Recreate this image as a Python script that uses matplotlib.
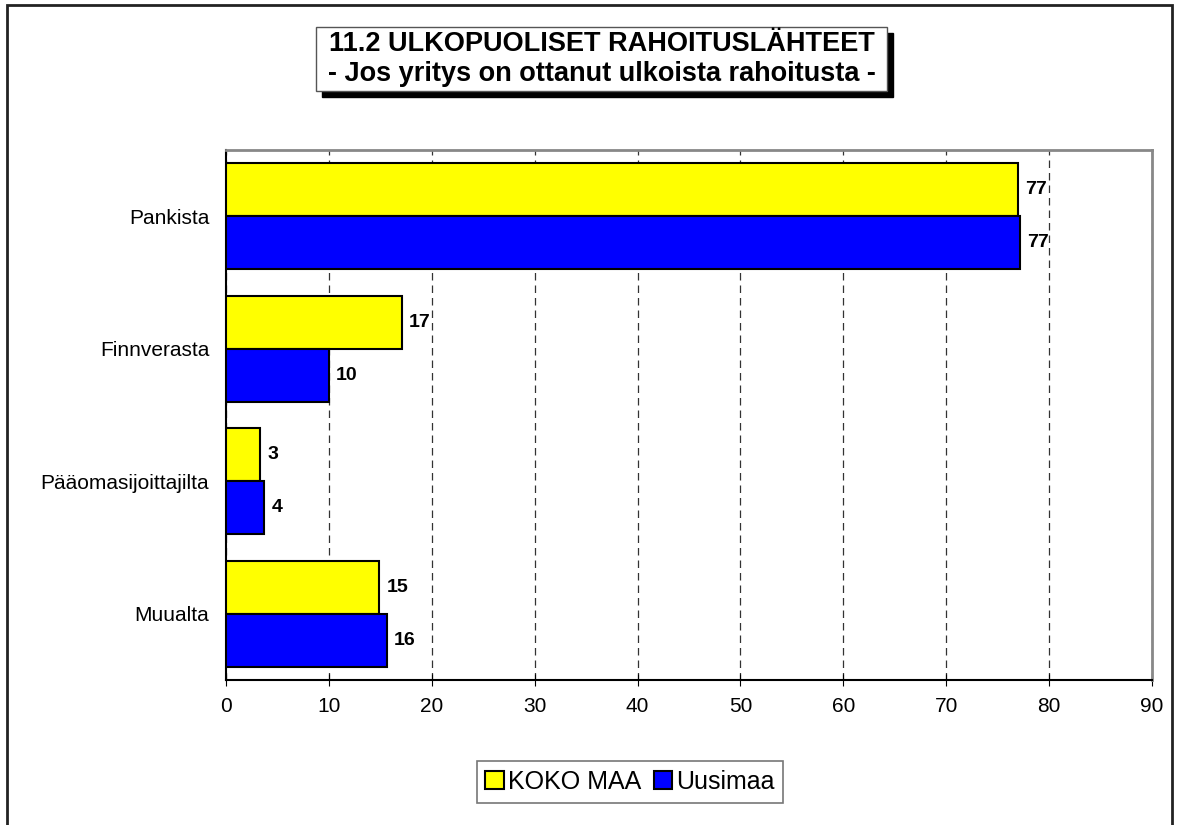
import matplotlib
matplotlib.use("Agg")
import matplotlib.pyplot as plt
from matplotlib.patches import Rectangle, Patch
import numpy as np

plt.rcParams['font.family'] = ['Liberation Sans', 'DejaVu Sans']

""" Data """
categories = ["Pankista", "Finnverasta", "Pääomasijoittajilta", "Muualta"]
koko_maa = [77.0, 17.1, 3.3, 14.9]
uusimaa = [77.2, 10.0, 3.7, 15.6]
series_names = ["KOKO MAA", "Uusimaa"]
x_ticks = [0, 10, 20, 30, 40, 50, 60, 70, 80, 90]

title = "11.2 ULKOPUOLISET RAHOITUSLÄHTEET\n- Jos yritys on ottanut ulkoista rahoitusta -"

fig = plt.figure(figsize=(11.78, 8.25), dpi=100)
ax = fig.add_axes([226 / 1178, 1 - 680 / 825, (1152 - 226) / 1178, 530 / 825])

y = np.arange(len(categories))
h = 0.4
ax.barh(y - h / 2, koko_maa, height=h, color="#FFFF00", edgecolor="black", linewidth=1.5, label=series_names[0], zorder=3)
ax.barh(y + h / 2, uusimaa, height=h, color="#0000FF", edgecolor="black", linewidth=1.5, label=series_names[1], zorder=3)

# value labels next to bars
for i in range(len(categories)):
    ax.text(koko_maa[i] + 0.7, y[i] - h / 2, "%d" % round(koko_maa[i]), va="center", ha="left",
            fontsize=14, fontweight="bold", zorder=4)
    ax.text(uusimaa[i] + 0.7, y[i] + h / 2, "%d" % round(uusimaa[i]), va="center", ha="left",
            fontsize=14, fontweight="bold", zorder=4)

ax.set_xlim(0, 90)
ax.set_ylim(len(categories) - 0.5, -0.5)
ax.set_xticks(x_ticks)
ax.set_yticks(y)
ax.set_yticklabels(categories)
ax.tick_params(axis="x", direction="inout", length=8, labelsize=15, pad=8)
ax.tick_params(axis="y", length=0, labelsize=15, pad=12)
ax.xaxis.grid(True, linestyle=(0, (6, 4)), color="#333333", linewidth=0.9, zorder=0)

for side in ["top", "right"]:
    ax.spines[side].set_color("#888888")
    ax.spines[side].set_linewidth(2)
for side in ["left", "bottom"]:
    ax.spines[side].set_color("black")
    ax.spines[side].set_linewidth(1.5)

# title box with shadow
bx, by, bw, bh = 316 / 1178, 1 - 91 / 825, 571 / 1178, 64 / 825
fig.patches.append(Rectangle((bx + 6 / 1178, by - 6 / 825), bw, bh, transform=fig.transFigure,
                             facecolor="black", edgecolor="black", zorder=1))
fig.patches.append(Rectangle((bx, by), bw, bh, transform=fig.transFigure,
                             facecolor="white", edgecolor="#555555", linewidth=1, zorder=2))
fig.text(bx + bw / 2, by + bh / 2, title, ha="center", va="center", fontsize=19.5,
         fontweight="bold", linespacing=1.2, zorder=3)

# outer border
fig.patches.append(Rectangle((7 / 1178, -0.02), 1165 / 1178, 1.02 - 5 / 825, transform=fig.transFigure,
                             facecolor="none", edgecolor="#222222", linewidth=2))

leg = fig.legend(handles=[Patch(facecolor="#FFFF00", edgecolor="black", linewidth=1.5),
                          Patch(facecolor="#0000FF", edgecolor="black", linewidth=1.5)],
                 labels=series_names, loc="center", bbox_to_anchor=(630 / 1178, 1 - 782 / 825),
                 ncol=2, fontsize=18, frameon=True, fancybox=False, handlelength=0.75, handleheight=0.75,
                 handletextpad=0.15, columnspacing=0.5, borderpad=0.35)
leg.get_frame().set_edgecolor("#555555")
leg.get_frame().set_linewidth(1.2)

fig.savefig("out.png", dpi=100)
